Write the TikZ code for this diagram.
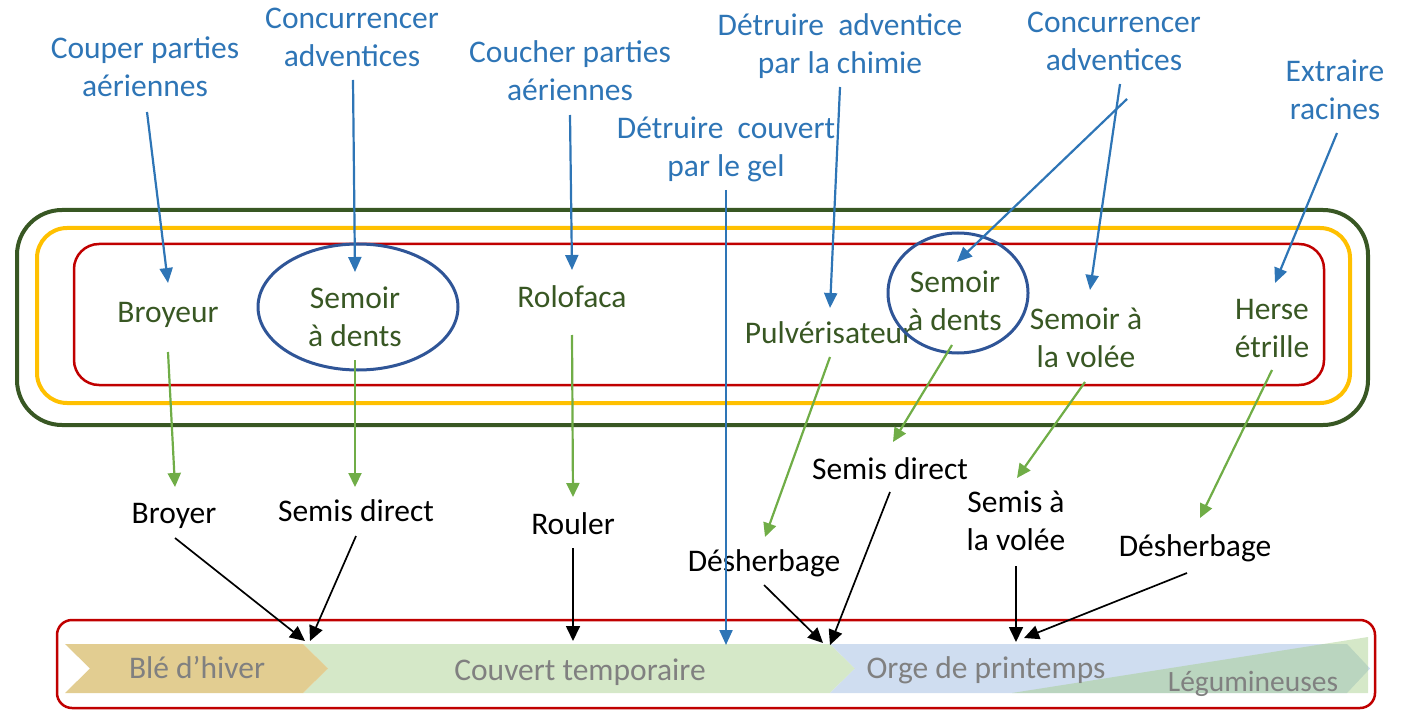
\documentclass[tikz,border=0pt]{standalone}
\usepackage{fontspec}
\setmainfont{Carlito}
\usetikzlibrary{arrows.meta}

\definecolor{cblue}{RGB}{46,117,182}
\definecolor{cgreen}{RGB}{56,87,35}
\definecolor{carrow}{RGB}{112,173,71}
\definecolor{cyellow}{RGB}{255,192,0}
\definecolor{cred}{RGB}{192,0,0}
\definecolor{cring}{RGB}{47,85,151}
\definecolor{wheat}{RGB}{226,205,145}
\definecolor{cover}{RGB}{213,232,200}
\definecolor{barley}{RGB}{207,221,240}
\definecolor{legume}{RGB}{160,203,130}
\definecolor{bartext}{RGB}{128,128,128}

% line strut: 38pt tall, 8.4pt below the baseline
\newcommand\tstrut{\rule[-8.4pt]{0pt}{38pt}}
\newcommand\twolines[2]{\tstrut#1\\\tstrut#2}

\begin{document}
\begin{tikzpicture}[x=1pt,y=-1pt,
  txt/.style={inner sep=0pt, outer sep=0pt, align=center,
    font=\fontsize{31.5}{38}\selectfont},
  goal/.style={txt, text=cblue},
  tool/.style={txt, text=cgreen},
  act/.style={txt, text=black},
  phase/.style={txt, text=bartext},
  frame/.style={draw, rectangle, inner sep=0pt, outer sep=0pt},
  bluearrow/.style={draw=cblue, line width=2.2pt, -{Triangle[length=15pt,width=13pt]}},
  greenarrow/.style={draw=carrow, line width=2.2pt, -{Triangle[length=14pt,width=13pt]}},
  blackarrow/.style={draw=black, line width=1.7pt, -{Triangle[length=15pt,width=14pt]}},
]
\useasboundingbox (0,0) rectangle (1412,711);

% nested frames around the tools
\node[frame, draw=cgreen, line width=4pt, rounded corners=45pt,
  minimum width=1351pt, minimum height=215pt] (outer) at (692.5,317.5) {};
\node[frame, draw=cyellow, line width=4pt, rounded corners=30pt,
  minimum width=1313pt, minimum height=175pt] (middle) at (693.5,315.5) {};
\node[frame, draw=cred, line width=2.5pt, rounded corners=25pt,
  minimum width=1250pt, minimum height=141pt] (inner) at (699,314.5) {};

% crop succession bar
\node[frame, draw=cred, line width=2.5pt, rounded corners=15pt,
  minimum width=1318pt, minimum height=88pt] (bar) at (716,664) {};
\fill[cover] (303,644) -- (830,644) -- (855,668.5) -- (830,693) -- (303,693) -- (328,668.5) -- cycle;
\fill[barley] (830,644) -- (1347,644) -- (1370,668.5) -- (1347,693) -- (830,693) -- (855,668.5) -- cycle;
\fill[wheat] (65,644) -- (303,644) -- (328,668.5) -- (303,693) -- (65,693) -- (90,668.5) -- cycle;
\fill[legume, fill opacity=0.44] (1012,693) -- (1368,637) -- (1368,693) -- cycle;

\node[phase] (ble) at (197,668) {\tstrut Blé d’hiver};
\node[phase] (couvert) at (580,670) {\tstrut Couvert temporaire};
\node[phase] (orge) at (986,668) {\tstrut Orge de printemps};
\node[phase, font=\fontsize{29.5}{36}\selectfont] (legu) at (1253,681) {\tstrut Légumineuses};

\coordinate (j1) at (307,641);
\coordinate (tr) at (573,641);
\coordinate (tg) at (726,645);
\coordinate (j2) at (828,644);
\coordinate (to) at (1018,641);

% objectives
\node[goal] (cp) at (145,67) {\twolines{Couper parties}{aériennes}};
\node[goal] (ca1) at (352,37) {\twolines{Concurrencer}{adventices}};
\node[goal] (chp) at (570,71) {\twolines{Coucher parties}{aériennes}};
\node[goal] (dac) at (840,44) {\twolines{Détruire\ \ adventice}{par la chimie}};
\node[goal] (dcg) at (726,147) {\twolines{Détruire\ \ couvert}{par le gel}};
\node[goal] (ca2) at (1114,41) {\twolines{Concurrencer}{adventices}};
\node[goal] (er) at (1335,90) {\twolines{Extraire}{racines}};

% tools
\node[tool] (broyeur) at (168,312) {\tstrut Broyeur};
\node[tool] (sd1) at (355,317) {\twolines{Semoir}{à dents}};
\node[tool] (rolofaca) at (572,297) {\tstrut Rolofaca};
\node[tool] (pulv) at (829,333) {\tstrut Pulvérisateur};
\node[tool] (sd2) at (955,301) {\twolines{Semoir}{à dents}};
\node[tool] (sv) at (1086,338) {\twolines{Semoir à}{la volée}};
\node[tool] (herse) at (1272,328) {\twolines{Herse}{étrille}};

\draw[cring, line width=3pt] (358,307) ellipse [x radius=100pt, y radius=63pt];
\draw[cring, line width=3pt] (958,293) ellipse [x radius=70pt, y radius=60pt];

% operations
\node[act] (broyer) at (174,513) {\tstrut Broyer};
\node[act] (sdir1) at (356,511) {\tstrut Semis direct};
\node[act] (rouler) at (573,524) {\tstrut Rouler};
\node[act] (desh1) at (764,561) {\tstrut Désherbage};
\node[act] (sdir2) at (890,469) {\tstrut Semis direct};
\node[act] (sav) at (1016,521) {\twolines{Semis à}{la volée}};
\node[act] (desh2) at (1195,546) {\tstrut Désherbage};

% objective -> tool
\draw[bluearrow] ([shift={(2,7)}]cp.south) -- ([shift={(0,-10)}]broyeur.north);
\draw[bluearrow] ([shift={(1,5)}]ca1.south) -- ([shift={(0,-7)}]sd1.north);
\draw[bluearrow] ([shift={(0,6)}]chp.south) -- ([shift={(0,-8)}]rolofaca.north);
\draw[bluearrow] ([shift={(0,5)}]dac.south) -- ([shift={(1,-6)}]pulv.north);
\draw[bluearrow] ([shift={(0,5)}]dcg.south) -- (tg);
\draw[bluearrow] ([shift={(13,20)}]ca2.south) -- ([shift={(2,-1)}]sd2.north);
\draw[bluearrow] ([shift={(6,5)}]ca2.south) -- ([shift={(4,-10)}]sv.north);
\draw[bluearrow] ([shift={(2,5)}]er.south) -- ([shift={(3,-7)}]herse.north);

% tool -> operation
\draw[greenarrow] ([shift={(0,21)}]broyeur.south) -- ([shift={(1,-7)}]broyer.north);
\draw[greenarrow] ([shift={(0,5)}]sd1.south) -- ([shift={(-1,-5)}]sdir1.north);
\draw[greenarrow] ([shift={(0,19)}]rolofaca.south) -- ([shift={(0,-8)}]rouler.north);
\draw[greenarrow] ([shift={(1,5)}]pulv.south) -- ([shift={(1,-5)}]desh1.north);
\draw[greenarrow] ([shift={(-3,6)}]sd2.south) -- ([shift={(3,-8)}]sdir2.north);
\draw[greenarrow] ([shift={(-1,6)}]sv.south) -- ([shift={(1,-5)}]sav.north);
\draw[greenarrow] ([shift={(0,4)}]herse.south) -- ([shift={(5,-9)}]desh2.north);

% operation -> crop bar
\draw[blackarrow] ([shift={(1,6)}]broyer.south) -- ([shift={(-2,0)}]j1);
\draw[blackarrow] ([shift={(0,6)}]sdir1.south) -- ([shift={(3,0)}]j1);
\draw[blackarrow] ([shift={(0,5)}]rouler.south) -- (tr);
\draw[blackarrow] ([shift={(0,5)}]desh1.south) -- ([shift={(-5,-1)}]j2);
\draw[blackarrow] ([shift={(0,4)}]sdir2.south) -- ([shift={(2,1)}]j2);
\draw[blackarrow] ([shift={(0,7)}]sav.south) -- ([shift={(-2,1)}]to);
\draw[blackarrow] ([shift={(-8,8)}]desh2.south) -- ([shift={(6,-3)}]to);
\end{tikzpicture}
\end{document}
